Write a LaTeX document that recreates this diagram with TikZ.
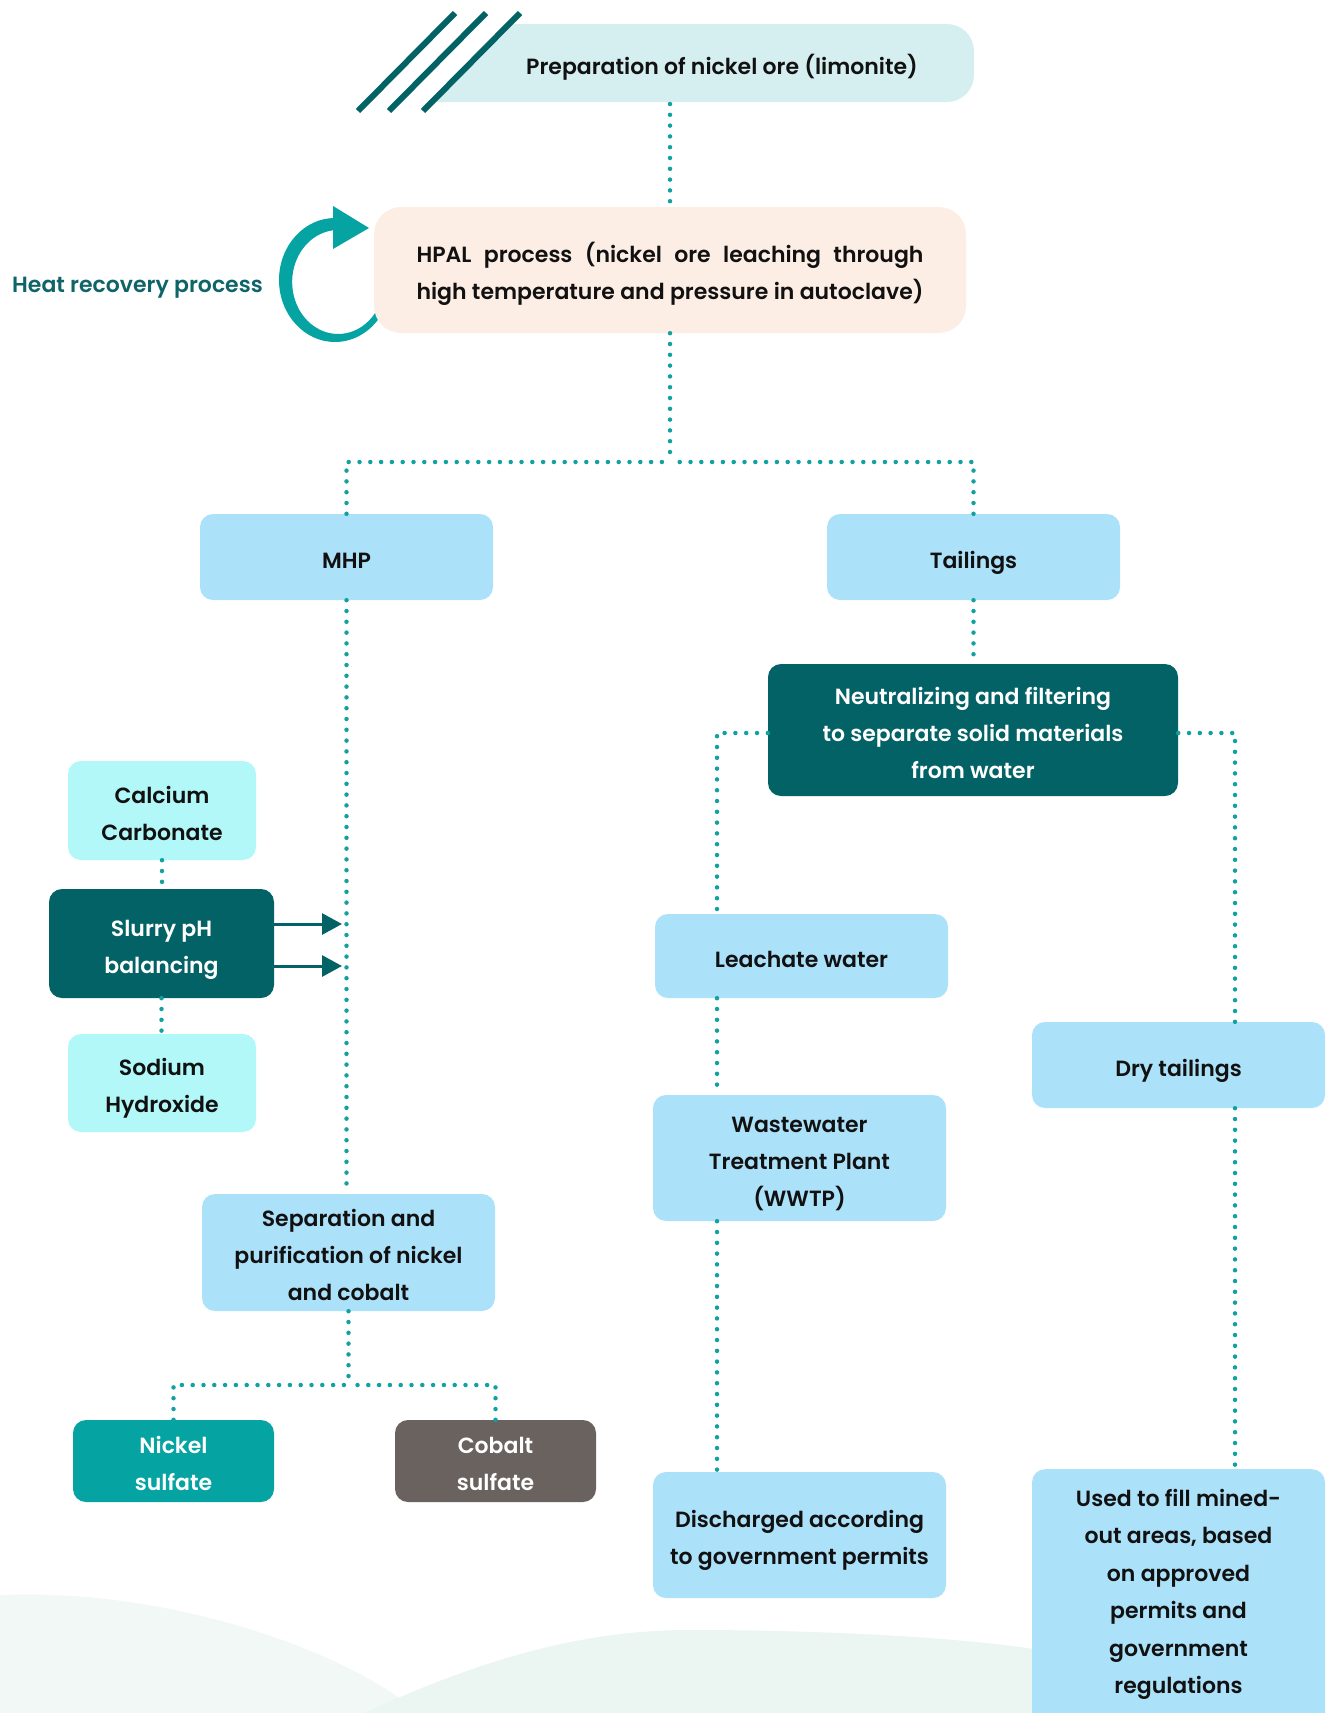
\documentclass[tikz,border=0pt]{standalone}
\usepackage{fontspec}
\setmainfont{Poppins}
\newfontfamily\medfont{Poppins SemiBold}
\usepackage{array}
\usetikzlibrary{arrows.meta}
\definecolor{prepfill}{HTML}{D5EFF0}
\definecolor{hpalfill}{HTML}{FDEEE5}
\definecolor{lblue}{HTML}{ACE1FA}
\definecolor{lcyan}{HTML}{B3F8F8}
\definecolor{dteal}{HTML}{036266}
\definecolor{mteal}{HTML}{06A3A3}
\definecolor{grayb}{HTML}{69625E}
\definecolor{dotc}{HTML}{13A0A0}
\definecolor{heatc}{HTML}{0E6467}
\definecolor{washc}{HTML}{EBF5F1}
\definecolor{washd}{HTML}{F2F8F6}
\definecolor{txt}{HTML}{111111}
\newcommand{\tx}[1]{\raisebox{-4pt}[\height][\depth]{\begin{tabular}{@{}c@{}}#1\end{tabular}}}
\tikzset{
  boxbase/.style={rectangle, rounded corners=13pt, inner sep=0pt,
    font=\medfont\fontsize{22}{37}\selectfont},
  bluebox/.style={boxbase, fill=lblue, text=txt},
  cyanbox/.style={boxbase, fill=lcyan, text=txt},
  darkbox/.style={boxbase, fill=dteal, text=white},
  tealbox/.style={boxbase, fill=mteal, text=white},
  graybox/.style={boxbase, fill=grayb, text=white},
  dotline/.style={draw=dotc, line width=4.5pt, line cap=round, dash pattern=on 0pt off 10.8pt},
  arrline/.style={draw=dteal, line width=3pt, -{Triangle[length=20pt,width=21pt]}},
}
\begin{document}
\begin{tikzpicture}[x=1pt,y=-1pt]
\useasboundingbox (0,0) rectangle (1327,1713);
\clip (0,0) rectangle (1327,1713);
% faint background wash
\fill[washd] (0,1713) -- (0,1595) .. controls (150,1588) and (330,1640) .. (420,1713) -- cycle;
\fill[washc] (364,1713) .. controls (480,1660) and (580,1630) .. (690,1630) .. controls (850,1630) and (980,1640) .. (1040,1650) -- (1040,1713) -- cycle;

% top stripes and preparation box
\fill[prepfill] (432,102) -- (508,24) [rounded corners=27pt]-- (974,24) -- (974,102) [sharp corners]-- cycle;
\draw[dteal, line width=6pt] (358,111) -- (455,13);
\draw[dteal, line width=6pt] (389,111) -- (486,13);
\draw[dteal, line width=6pt] (423,111) -- (520,13);
\node[font=\medfont\fontsize{22}{37}\selectfont, text=txt, minimum width=400pt, minimum height=78pt, inner sep=0pt] (prep) at (722,63) {\tx{Preparation of nickel ore (limonite)}};

% heat recovery arrow
\fill[mteal] (335,218) arc[start angle=270, end angle=30, x radius=56, y radius=62]
  -- (378,308) arc[start angle=30, end angle=270, x radius=46, y radius=52] -- cycle;
\fill[mteal] (333,206) -- (369,228) -- (333,249) -- cycle;
\node[font=\medfont\fontsize{22}{37}\selectfont, text=heatc, inner sep=0pt] (heat) at (137.5,281) {\tx{Heat recovery process}};

% HPAL
\node[boxbase, fill=hpalfill, text=txt, rounded corners=27pt, minimum width=592pt, minimum height=126pt] (hpal) at (670,270)
  {\tx{\makebox[507pt][s]{HPAL process (nickel ore leaching through}\\
   \makebox[507pt][s]{high temperature and pressure in autoclave)}}};

% level 2
\node[bluebox, minimum width=293pt, minimum height=86pt] (mhp) at (346.5,557) {\tx{MHP}};
\node[bluebox, minimum width=293pt, minimum height=86pt] (tailings) at (973.5,557) {\tx{Tailings}};

% left column
\node[cyanbox, minimum width=188pt, minimum height=99pt] (calc) at (162,810.5) {\tx{Calcium\\Carbonate}};
\node[darkbox, minimum width=225pt, minimum height=109pt] (slurry) at (161.5,943.5) {\tx{Slurry pH\\balancing}};
\node[cyanbox, minimum width=188pt, minimum height=98pt] (sod) at (162,1083) {\tx{Sodium\\Hydroxide}};
\node[bluebox, minimum width=293pt, minimum height=117pt] (sep) at (348.5,1252.5) {\tx{Separation and\\purification of nickel\\and cobalt}};
\node[tealbox, minimum width=201pt, minimum height=82pt] (nisulf) at (173.5,1461) {\tx{Nickel\\sulfate}};
\node[graybox, minimum width=201pt, minimum height=82pt] (cosulf) at (495.5,1461) {\tx{Cobalt\\sulfate}};

% right part
\node[darkbox, minimum width=410pt, minimum height=132pt] (neut) at (973,730) {\tx{Neutralizing and filtering\\to separate solid materials\\from water}};
\node[bluebox, minimum width=293pt, minimum height=84pt] (leach) at (801.5,956) {\tx{Leachate water}};
\node[bluebox, minimum width=293pt, minimum height=126pt] (wwtp) at (799.5,1158) {\tx{Wastewater\\Treatment Plant\\(WWTP)}};
\node[bluebox, minimum width=293pt, minimum height=126pt] (disc) at (799.5,1535) {\tx{Discharged according\\to government permits}};
\node[bluebox, minimum width=293pt, minimum height=86pt] (drytail) at (1178.5,1065) {\tx{Dry tailings}};
\node[bluebox, minimum width=293pt, minimum height=300pt, anchor=north] (used) at (1178.5,1469) {};
\node[text=txt, inner sep=0pt, anchor=north, font=\medfont\fontsize{22}{37.4}\selectfont] (usedtxt) at ([yshift=-7pt]used.north) {\tx{Used to fill mined-\\out areas, based\\on approved\\permits and\\government\\regulations}};

% coordinates
\coordinate (branch) at (670,462);
\coordinate (split) at (348.5,1385);
\coordinate (lcol) at (717,733);
\coordinate (rcol) at (1235,733);
\coordinate (a1) at (342,924);
\coordinate (a2) at (342,966);

% dotted connectors
\draw[dotline] (hpal.north |- 0,104) -- (hpal.north);
\draw[dotline] (hpal.south) -- (branch);
\draw[dotline] (mhp.north) |- (branch);
\draw[dotline] (tailings.north) |- (branch);
\draw[dotline] (mhp.south) -- (mhp.south |- sep.north);
\draw[dotline] (calc.south) -- (calc.south |- slurry.north);
\draw[dotline] (slurry.south) -- (slurry.south |- sod.north);
\draw[dotline] (sep.south) -- (split);
\draw[dotline] (nisulf.north) |- (split);
\draw[dotline] (cosulf.north) |- (split);
\draw[dotline] (tailings.south) -- (tailings.south |- neut.north);
\draw[dotline] (neut.west |- lcol) -- (lcol) -- (lcol |- leach.north);
\draw[dotline] (lcol |- leach.south) -- (lcol |- wwtp.north);
\draw[dotline] (lcol |- wwtp.south) -- (lcol |- disc.north);
\draw[dotline] (neut.east |- rcol) -- (rcol) -- (rcol |- drytail.north);
\draw[dotline] (rcol |- drytail.south) -- (rcol |- used.north);

% arrows
\draw[arrline] (slurry.east |- a1) -- (a1);
\draw[arrline] (slurry.east |- a2) -- (a2);
\end{tikzpicture}
\end{document}
